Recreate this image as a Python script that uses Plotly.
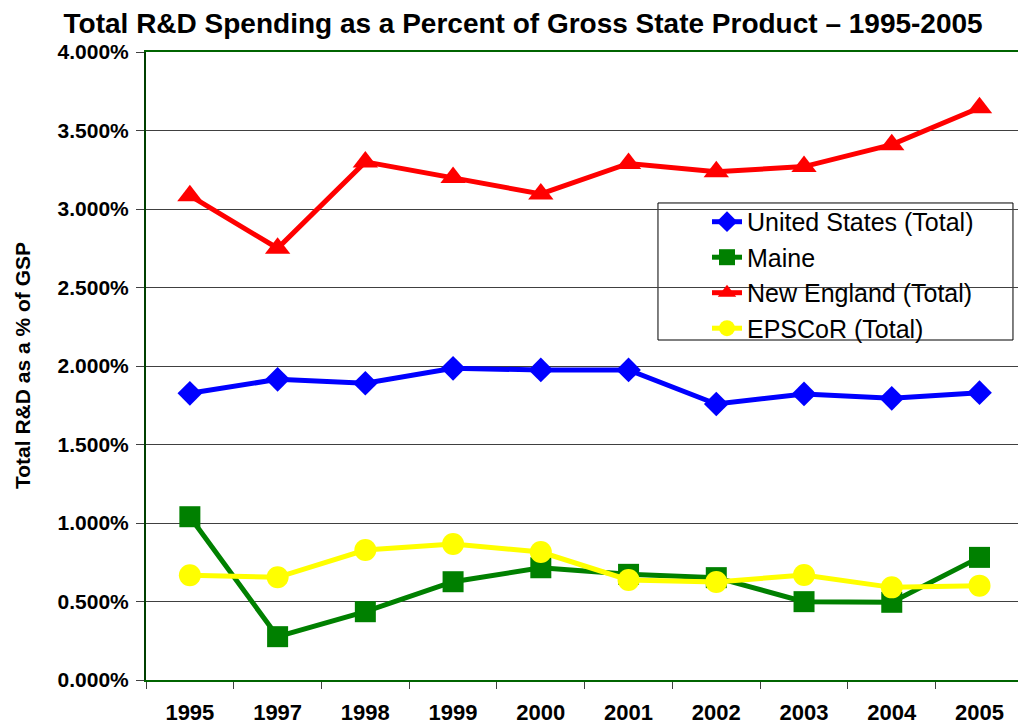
import plotly.graph_objects as go

# # Data
years = ['1995', '1997', '1998', '1999', '2000', '2001', '2002', '2003', '2004', '2005']
us_total = [0.01826, 0.01915, 0.01890, 0.01985, 0.01975, 0.01975, 0.01758, 0.01822, 0.01794, 0.01830]
maine = [0.01040, 0.00276, 0.00435, 0.00626, 0.00715, 0.00673, 0.00652, 0.00499, 0.00495, 0.00781]
new_england = [0.03085, 0.02750, 0.03300, 0.03200, 0.03096, 0.03290, 0.03238, 0.03270, 0.03410, 0.03645]
epscor = [0.00667, 0.00654, 0.00828, 0.00866, 0.00815, 0.00637, 0.00624, 0.00669, 0.00590, 0.00601]

FONT = 'Liberation Sans, Arial, sans-serif'

fig = go.Figure()

series = [
    ('United States (Total)', us_total, '#0000FF', 'diamond', 19),
    ('Maine', maine, '#008000', 'square', 21),
    ('New England (Total)', new_england, '#FF0000', 'triangle-up', 22),
    ('EPSCoR (Total)', epscor, '#FFFF00', 'circle', 22),
]
for name, vals, col, sym, size in series:
    fig.add_trace(go.Scatter(
        x=years, y=vals, name=name, mode='lines+markers',
        line=dict(color=col, width=5),
        marker=dict(color=col, symbol=sym, size=size),
    ))

# # Legend box (white, black border) drawn behind the legend
fig.add_shape(type='rect', xref='paper', yref='paper',
              x0=0.5818, x1=0.9852, y0=0.5414, y1=0.7596,
              line=dict(color='black', width=1), fillcolor='white', layer='between')

# # Y axis title
fig.add_annotation(text='<b>Total R&D as a % of GSP</b>', xref='paper', yref='paper',
                   x=-0.1409, y=0.5, xanchor='center', yanchor='middle',
                   textangle=-90, showarrow=False, font=dict(size=21, family=FONT))

# page has an 8px body margin, so the figure is sized/offset to compensate
fig.update_layout(
    width=1018, height=718,
    margin=dict(l=138, r=0, t=44, b=46),
    plot_bgcolor='white', paper_bgcolor='white',
    font=dict(family=FONT, color='black'),
    title=dict(text='<b>Total R&D Spending as a Percent of Gross State Product – 1995-2005</b>',
               x=0.506, xanchor='center', y=0.993, yanchor='top', pad=dict(t=0, b=0),
               font=dict(size=28, family=FONT)),
    showlegend=True,
    legend=dict(x=0.6375, y=0.766, xanchor='left', yanchor='top',
                bgcolor='rgba(0,0,0,0)', borderwidth=0,
                font=dict(size=25, family=FONT)),
)

fig.update_xaxes(type='category', range=[-0.5, 9.53],
                 showline=True, linecolor='#006400', linewidth=2, mirror=True,
                 ticks='outside', tickson='boundaries', ticklen=7, tickcolor='#404040',
                 showgrid=False, tickfont=dict(size=22, family=FONT),
                 ticklabelstandoff=12, tickprefix='<b>', ticksuffix='</b>')
fig.update_yaxes(range=[0, 0.04], dtick=0.005, tickformat='.3%',
                 showline=True, linecolor='#004000', linewidth=2,
                 ticks='outside', ticklen=8, tickcolor='#404040',
                 showgrid=True, gridcolor='#404040', gridwidth=1, zeroline=False,
                 tickfont=dict(size=21, family=FONT), tickprefix='<b>', ticksuffix='</b>',
                 ticklabelstandoff=3)

fig.write_html('out.html')
